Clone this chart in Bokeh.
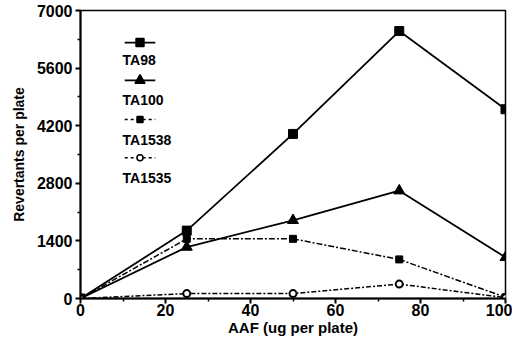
from bokeh.plotting import figure
from bokeh.models import Range1d, FixedTicker, Label
from bokeh.embed import file_html
from bokeh.resources import INLINE

# data
doses = [0, 25, 50, 75, 100]
ta98 = [0, 1650, 4000, 6500, 4600]
ta100 = [0, 1250, 1900, 2620, 1000]
ta1538 = [0, 1450, 1450, 950, 30]
ta1535 = [0, 120, 120, 350, 20]
series_names = ["TA98", "TA100", "TA1538", "TA1535"]
x_ticks = [0, 20, 40, 60, 80, 100]
y_ticks = [0, 1400, 2800, 4200, 5600, 7000]

FONT = "Liberation Sans"

p = figure(width=512, height=338, output_backend="svg", toolbar_location=None,
           x_range=Range1d(0, 100), y_range=Range1d(0, 7000),
           min_border_left=80, min_border_right=7, min_border_top=10, min_border_bottom=38)
p.grid.visible = False
p.outline_line_color = "black"
p.outline_line_width = 1.5
p.background_fill_color = "white"

for ax in (p.xaxis, p.yaxis):
    ax.axis_line_width = 2
    ax.major_tick_line_width = 2
    ax.minor_tick_line_width = 1.5
    ax.major_tick_out = 5
    ax.major_tick_in = 0
    ax.minor_tick_out = 3
    ax.minor_tick_in = 0
    ax.major_label_text_font = FONT
    ax.major_label_text_font_style = "bold"
    ax.major_label_text_font_size = "16px"
    ax.major_label_text_color = "black"
    ax.axis_label_text_font = FONT
    ax.axis_label_text_font_style = "bold"
    ax.axis_label_text_color = "black"

p.xaxis.ticker = FixedTicker(ticks=x_ticks, minor_ticks=[10, 30, 50, 70, 90])
p.yaxis.ticker = FixedTicker(ticks=y_ticks, minor_ticks=[700, 2100, 3500, 4900, 6300])
p.xaxis.axis_label = "AAF (ug per plate)"
p.yaxis.axis_label = "Revertants per plate"
p.xaxis.axis_label_text_font_size = "15px"
p.yaxis.axis_label_text_font_size = "14px"
p.xaxis.major_label_standoff = 0
p.xaxis.axis_label_standoff = 0
p.yaxis.major_label_standoff = 3
p.yaxis.axis_label_standoff = 7

# series
p.line(doses, ta98, line_color="black", line_width=1.8)
p.scatter(doses, ta98, marker="square", size=9, color="black")

p.line(doses, ta100, line_color="black", line_width=1.8)
p.scatter(doses, ta100, marker="triangle", size=11, color="black")

p.line(doses, ta1538, line_color="black", line_width=1.5, line_dash="6 2 2 2")
p.scatter(doses, ta1538, marker="square", size=7, color="black")

p.line(doses, ta1535, line_color="black", line_width=1.5, line_dash="5 2 2 2")
p.scatter(doses, ta1535, marker="circle", size=7, fill_color="white", line_color="black", line_width=2)

# legend (sample line above label)
leg_x0, leg_x1, leg_xm = 10.4, 17.6, 14.0
leg_line_y = [6220, 5300, 4350, 3420]
leg_text_y = [5800, 4830, 3860, 2940]
styles = [
    dict(dash="solid", marker="square", size=8, fill="black", lw=1.8),
    dict(dash="solid", marker="triangle", size=10, fill="black", lw=1.8),
    dict(dash="3 3", marker="square", size=6, fill="black", lw=1.5),
    dict(dash="3 3", marker="circle", size=6, fill="white", lw=1.5),
]
for name, ly, ty, st in zip(series_names, leg_line_y, leg_text_y, styles):
    p.line([leg_x0, leg_x1], [ly, ly], line_color="black", line_width=st["lw"], line_dash=st["dash"])
    p.scatter([leg_xm], [ly], marker=st["marker"], size=st["size"], fill_color=st["fill"],
              line_color="black", line_width=1.5)
    p.add_layout(Label(x=9.9, y=ty, text=name, text_font=FONT, text_font_style="bold",
                       text_font_size="14px", text_baseline="middle", text_color="black"))

open("out.html", "w").write(file_html(p, INLINE))
